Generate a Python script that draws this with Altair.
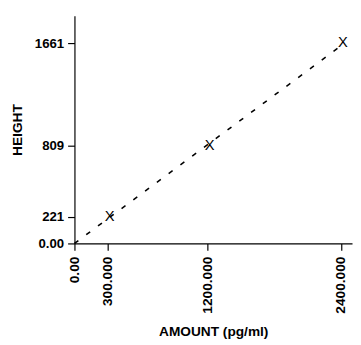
import altair as alt
import pandas as pd

amount = [300000, 1200000, 2400000]
height = [221, 809, 1661]
marker = ["X", "X", "X"]
fit_amount = [0, 2400000]
fit_height = [0, 1640]
x_ticks = [0, 300000, 1200000, 2400000]
y_ticks = [0, 221, 809, 1661]

pts = pd.DataFrame({"amount": amount, "height": height, "m": marker})
fit = pd.DataFrame({"amount": fit_amount, "height": fit_height})

FONT = "Liberation Sans"

xscale = alt.Scale(domain=[0, 2500000], nice=False, zero=False)
yscale = alt.Scale(domain=[0, 1890], nice=False, zero=False)

xaxis = alt.Axis(
    values=x_ticks, title="AMOUNT (pg/ml)", grid=False,
    labelAngle=270, labelExpr="datum.value == 0 ? '0.00' : format(datum.value/1000, '.3f')",
    labelFont=FONT, labelFontSize=14, labelFontWeight="bold", labelColor="black",
    labelPadding=6, tickSize=7, tickColor="black", domainColor="black",
    titleFont=FONT, titleFontSize=14, titleFontWeight="bold", titleColor="black",
    titlePadding=12, labelOverlap=False, labelBound=False, labelFlush=False,
)
yaxis = alt.Axis(
    values=y_ticks, title="HEIGHT", grid=False,
    labelExpr="datum.value == 0 ? '0.00' : format(datum.value, 'd')",
    labelFont=FONT, labelFontSize=13.5, labelFontWeight="bold", labelColor="black",
    labelPadding=4, tickSize=7, tickColor="black", domainColor="black",
    titleFont=FONT, titleFontSize=14, titleFontWeight="bold", titleColor="black",
    titlePadding=10, labelOverlap=False, labelBound=False, labelFlush=False,
)

line = alt.Chart(fit).mark_line(color="black", strokeDash=[5, 10], strokeWidth=1.6).encode(
    x=alt.X("amount:Q", scale=xscale, axis=xaxis),
    y=alt.Y("height:Q", scale=yscale, axis=yaxis),
)
pts_layer = alt.Chart(pts).mark_text(font=FONT, fontSize=15, color="black", align="center", baseline="middle", dx=2, dy=-1).encode(
    x=alt.X("amount:Q", scale=xscale),
    y=alt.Y("height:Q", scale=yscale),
    text="m:N",
)

chart = alt.layer(line, pts_layer).properties(
    width=284, height=233,
    autosize=alt.AutoSizeParams(type="none"),
    padding={"left": 68, "top": 4, "right": 1, "bottom": 99},
).configure_view(stroke=None).configure_axis(domainWidth=1.2, tickWidth=1.2)

chart.save("out.html", embed_options={"renderer": "svg", "actions": False})
